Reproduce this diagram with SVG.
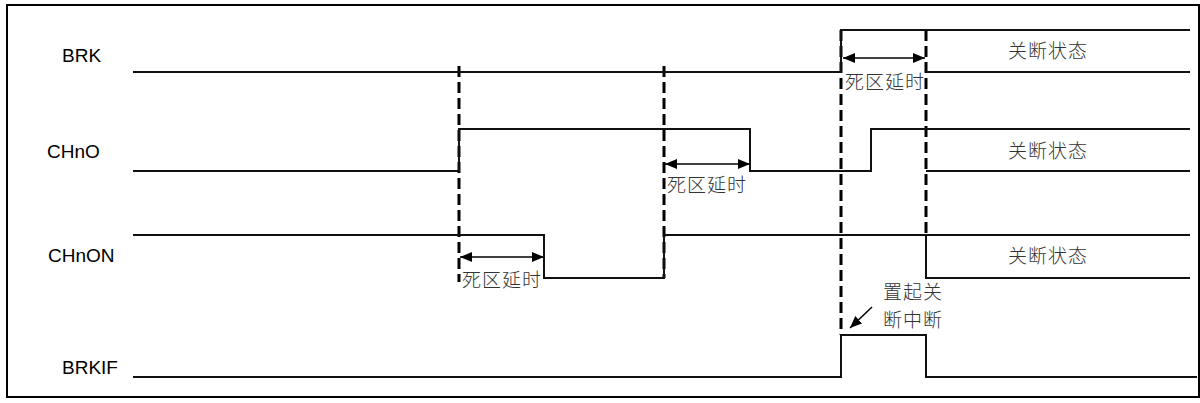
<svg xmlns="http://www.w3.org/2000/svg" width="1200" height="403" viewBox="0 0 1200 403">
<defs>
<marker id="ah" viewBox="0 0 12 10" refX="12" refY="5" markerWidth="12" markerHeight="10" markerUnits="userSpaceOnUse" orient="auto-start-reverse">
<path d="M0,0 L12,5 L0,10 z" fill="#000"/>
</marker>
<style>
.sig{fill:none;stroke:#111;stroke-width:2}
.dash{fill:none;stroke:#000;stroke-width:3;stroke-dasharray:11 5}
.arr{fill:none;stroke:#000;stroke-width:1.5;marker-start:url(#ah);marker-end:url(#ah)}
.arr1{fill:none;stroke:#000;stroke-width:1.5;marker-end:url(#ah)}
.lbl{font-family:"Liberation Sans",Arial,sans-serif;font-size:19px;fill:#000}
.cn{font-family:"Noto Sans CJK SC","Noto Sans",sans-serif;font-size:19px;font-weight:300;letter-spacing:1px;fill:#333}
</style>
</defs>
<rect x="7" y="5" width="1192" height="392" fill="#fff" stroke="#000" stroke-width="2"/>
<g id="connectors">
<line class="dash" x1="459" y1="66" x2="459" y2="282"/>
<line class="dash" x1="664" y1="66" x2="664" y2="278"/>
<line class="dash" x1="841" y1="30" x2="841" y2="335"/>
<line class="dash" x1="926" y1="30" x2="926" y2="236"/>
<line class="arr" x1="460" y1="257" x2="544" y2="257"/>
<line class="arr" x1="665" y1="164" x2="750" y2="164"/>
<line class="arr" x1="843" y1="58" x2="925" y2="58"/>
<line class="arr1" x1="872" y1="307" x2="850" y2="328"/>
</g>
<g id="brk">
<text class="lbl" x="62" y="62">BRK</text>
<path class="sig" d="M133,72 H841 V30 H1190 M926,72 H1190"/>
<text class="cn" x="1008" y="58">关断状态</text>
<text class="cn" x="845" y="89">死区延时</text>
</g>
<g id="chno">
<text class="lbl" x="47" y="158">CHnO</text>
<path class="sig" d="M133,171 H459 V129 H750 V171 H871 V129 H1190 M926,171 H1190"/>
<text class="cn" x="1008" y="158">关断状态</text>
<text class="cn" x="667" y="192">死区延时</text>
</g>
<g id="chnon">
<text class="lbl" x="48" y="262">CHnON</text>
<path class="sig" d="M133,235 H544 V278 H664 V235 H1190 M926,235 V278 H1190"/>
<text class="cn" x="1008" y="263">关断状态</text>
<text class="cn" x="462" y="287">死区延时</text>
</g>
<g id="brkif">
<text class="lbl" x="62" y="374">BRKIF</text>
<path class="sig" d="M133,377 H841 V335 H926 V377 H1197"/>
<text class="cn" x="883" y="299">置起关</text>
<text class="cn" x="883" y="327">断中断</text>
</g>
</svg>
